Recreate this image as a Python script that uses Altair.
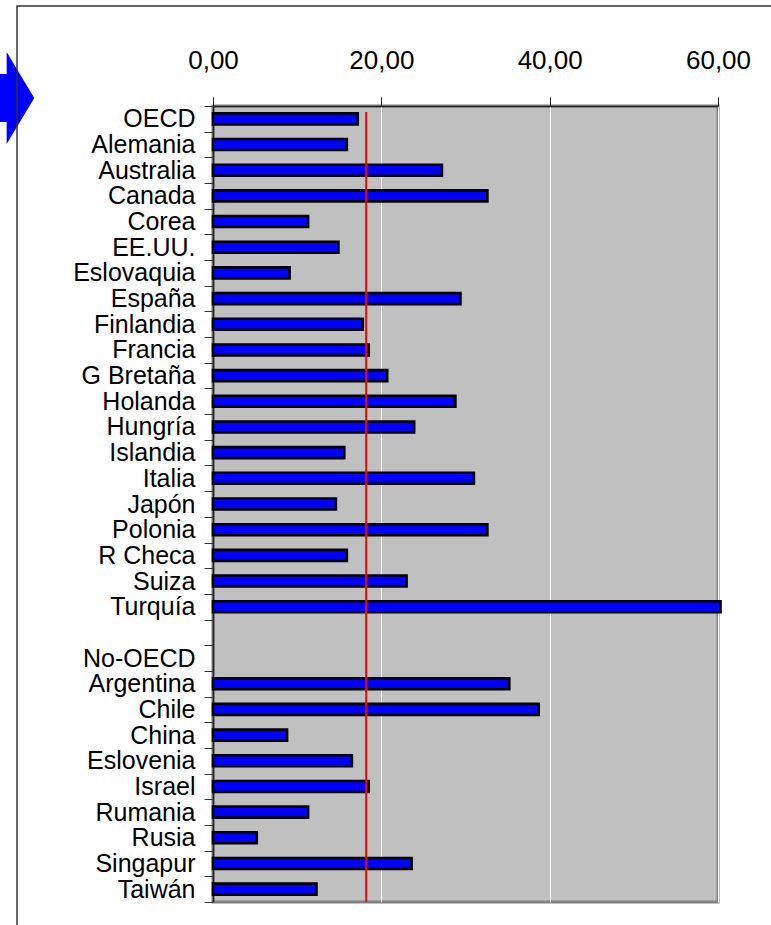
import altair as alt
import pandas as pd

# Row order on the vertical axis (a blank spacer row separates the two groups)
paises = [
    "OECD", "Alemania", "Australia", "Canada", "Corea", "EE.UU.", "Eslovaquia",
    "España", "Finlandia", "Francia", "G Bretaña", "Holanda", "Hungría",
    "Islandia", "Italia", "Japón", "Polonia", "R Checa", "Suiza", "Turquía",
    " ", "No-OECD",
    "Argentina", "Chile", "China", "Eslovenia", "Israel", "Rumania", "Rusia",
    "Singapur", "Taiwán",
]

# Countries with a bar and their values
paises_oecd = [
    "OECD", "Alemania", "Australia", "Canada", "Corea", "EE.UU.", "Eslovaquia",
    "España", "Finlandia", "Francia", "G Bretaña", "Holanda", "Hungría",
    "Islandia", "Italia", "Japón", "Polonia", "R Checa", "Suiza", "Turquía",
]
valores_oecd = [
    17.2, 15.9, 27.2, 32.6, 11.3, 14.9, 9.1,
    29.4, 17.8, 18.5, 20.7, 28.8, 23.9,
    15.6, 31.0, 14.6, 32.6, 15.9, 23.0, 60.3,
]
paises_no_oecd = [
    "Argentina", "Chile", "China", "Eslovenia", "Israel", "Rumania", "Rusia",
    "Singapur", "Taiwán",
]
valores_no_oecd = [35.2, 38.7, 8.8, 16.5, 18.5, 11.3, 5.2, 23.6, 12.3]

# Reference line
referencia = 18.2

# Axis ticks
ticks_x = [0, 20, 40, 60]

W, H = 505, 796
LEFT, TOP = 213, 106

df = pd.DataFrame({
    "pais": paises_oecd + paises_no_oecd,
    "valor": valores_oecd + valores_no_oecd,
})

x_scale = alt.Scale(domain=[0, 60], nice=False, zero=True)

barras = alt.Chart(df).mark_bar(
    size=11, color="#0000FF", stroke="#000000", strokeWidth=2.6
).encode(
    x=alt.X(
        "valor:Q",
        scale=x_scale,
        axis=alt.Axis(
            orient="top",
            values=ticks_x,
            title=None,
            labelExpr="replace(format(datum.value, '.2f'), '.', ',')",
            labelFont="Liberation Sans",
            labelFontSize=26,
            labelColor="#000000",
            labelBaseline="alphabetic",
            labelFlush=False,
            labelPadding=29,
            tickSize=9,
            tickColor="#222222",
            domainColor="#222222",
            domainWidth=1.5,
            grid=True,
            gridColor="#FFFFFF",
            gridWidth=1,
        ),
    ),
    y=alt.Y(
        "pais:N",
        sort=paises,
        scale=alt.Scale(domain=paises, paddingInner=0, paddingOuter=0),
        axis=alt.Axis(
            title=None,
            labelFont="Liberation Sans",
            labelFontSize=25,
            labelColor="#000000",
            labelPadding=9,
            tickSize=9,
            tickBand="extent",
            tickColor="#333333",
            domainColor="#222222",
            domainWidth=1.5,
            grid=False,
        ),
    ),
)

linea = alt.Chart(pd.DataFrame({"valor": [referencia]})).mark_rule(
    color="#FF0000", strokeWidth=2
).encode(
    x=alt.X("valor:Q", scale=x_scale),
    y=alt.value(6),
    y2=alt.value(H),
)

# Decorative arrow at the top left and the outer chart frame
flecha = alt.Chart(alt.Data(values=[{}])).mark_point(
    shape="M-0.9,-0.52 L-0.29,-0.52 L-0.29,-1 L0.31,0 L-0.29,1 L-0.29,0.52 L-0.9,0.52 Z",
    size=8464,
    filled=True,
    color="#0000FF",
    opacity=1,
    strokeWidth=0,
).encode(
    x=alt.value(20 - LEFT),
    y=alt.value(98 - TOP),
)

marco = alt.Chart(alt.Data(values=[{}])).mark_rect(
    fillOpacity=0, stroke="#333333", strokeWidth=1.5
).encode(
    x=alt.value(17 - LEFT),
    x2=alt.value(700),
    y=alt.value(6 - TOP),
    y2=alt.value(900),
)

chart = alt.layer(flecha, marco, barras, linea).properties(
    width=W,
    height=H,
    autosize=alt.AutoSizeParams(type="none"),
    padding={"left": LEFT, "top": TOP, "right": 771 - LEFT - W, "bottom": 925 - TOP - H},
    background="#FFFFFF",
).configure_view(
    fill="#C0C0C0",
    stroke="#808080",
    strokeWidth=3,
)

chart.save("out.html", embed_options={"renderer": "svg", "actions": False})
